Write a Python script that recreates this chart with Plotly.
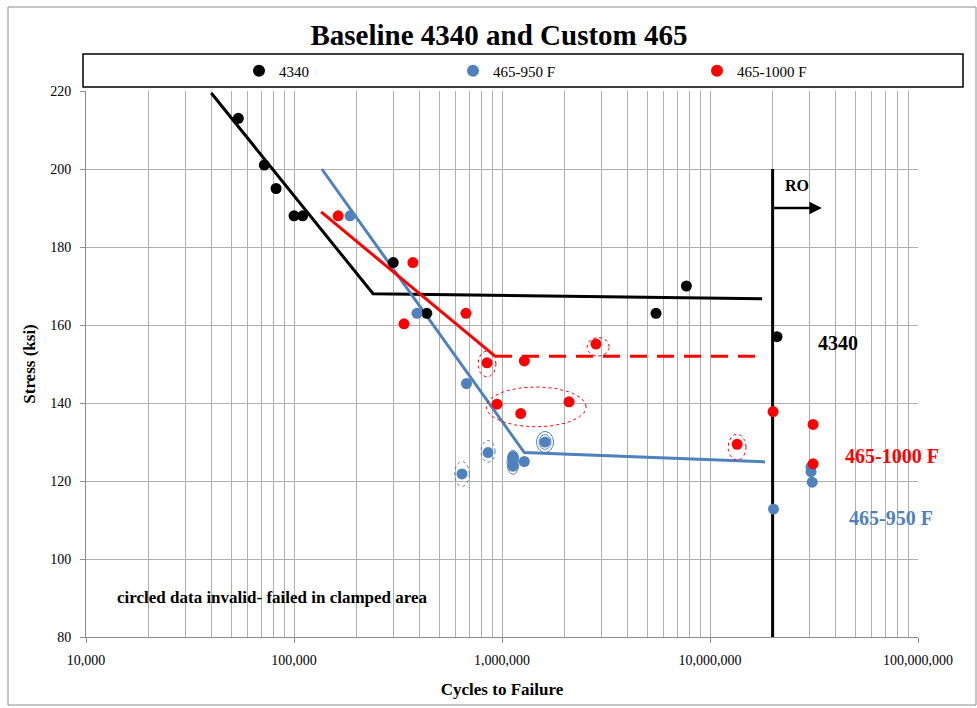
import numpy as np
import plotly.graph_objects as go

# ---------------- data ----------------
c4340 = [54000, 72000, 82000, 100000, 110000, 300000, 435000, 5500000, 7700000, 21000000]
s4340 = [213, 201, 195, 188, 188, 176, 163, 163, 170, 157]

c950 = [186000, 390000, 675000, 642000, 857000, 1130000, 1130000, 1130000,
        1280000, 1610000, 20200000, 30600000, 30600000, 31000000]
s950 = [188, 163, 145, 121.8, 127.3, 126.3, 125.0, 123.8, 125.0, 130.0,
        112.8, 123.6, 122.4, 119.7]

c1000 = [163000, 373000, 338000, 671000, 847000, 1280000, 2830000, 946000,
         1230000, 2100000, 13500000, 20100000, 31300000, 31300000]
s1000 = [188, 176, 160.3, 163, 150.3, 150.8, 155.1, 139.7, 137.3, 140.3,
         129.4, 137.8, 134.5, 124.4]

# trend lines
fit4340_c = [40000, 240000, 17800000]
fit4340_s = [219.5, 168, 166.7]
fit950_c = [136000, 1280000, 18400000]
fit950_s = [200, 127.3, 124.9]
fit1000_c = [135000, 925000]
fit1000_s = [189, 152]
fit1000dash_c = [925000, 17800000]
fit1000dash_s = [152, 152]

# run-out line and arrow
runout_c = [20000000, 20000000]
runout_s = [80, 200]
arrow_c = [20000000, 34500000]
arrow_s = [190, 190]

# circled (invalid) data: centres (cycles, ksi)
red_ring_c = [847000, 1460000, 2900000, 13500000]
red_ring_s = [150.0, 139.0, 154.4, 128.7]
bluedot_ring_c = [642000, 857000]
bluedot_ring_s = [121.8, 127.6]
bluesolid_ring_c = [1130000, 1610000, 1610000]
bluesolid_ring_s = [124.8, 130.0, 130.0]

# ring radii (decades, ksi)
red_ring_r = [(0.043, 3.3), (0.24, 5.1), (0.053, 2.4), (0.043, 3.3)]
bluedot_ring_r = [(0.036, 3.2), (0.034, 2.8)]
bluesolid_ring_r = [(0.029, 3.1), (0.041, 2.7), (0.029, 1.9)]

BLUE = "#4f81bd"
RED = "#ff0000"
FONT = "Liberation Serif"

# plot-area pixel geometry helpers (layout only)
L, R, T, B = 86, 918, 91, 637
def px(x):
    return (x - L) / (R - L)
def py(y):
    return (B - y) / (B - T)

def rings(cs, ss, rr):
    t = np.linspace(0, 2 * np.pi, 73)
    xs, ys = [], []
    for c, s, (rx, ry) in zip(cs, ss, rr):
        xs += list(c * 10 ** (rx * np.cos(t))) + [None]
        ys += list(s + ry * np.sin(t)) + [None]
    return xs, ys

fig = go.Figure()

# lines
fig.add_trace(go.Scatter(x=fit4340_c, y=fit4340_s, mode="lines",
                         line=dict(color="black", width=3), showlegend=False, hoverinfo="skip"))
fig.add_trace(go.Scatter(x=fit950_c, y=fit950_s, mode="lines",
                         line=dict(color=BLUE, width=3), showlegend=False, hoverinfo="skip"))
fig.add_trace(go.Scatter(x=fit1000_c, y=fit1000_s, mode="lines",
                         line=dict(color=RED, width=3), showlegend=False, hoverinfo="skip"))
fig.add_trace(go.Scatter(x=fit1000dash_c, y=fit1000dash_s, mode="lines",
                         line=dict(color=RED, width=3, dash="17px,10px"), showlegend=False, hoverinfo="skip"))
fig.add_trace(go.Scatter(x=runout_c, y=runout_s, mode="lines",
                         line=dict(color="black", width=3), showlegend=False, hoverinfo="skip"))

# rings
x, y = rings(red_ring_c, red_ring_s, red_ring_r)
fig.add_trace(go.Scatter(x=x, y=y, mode="lines", line=dict(color=RED, width=1, dash="dot"),
                         showlegend=False, hoverinfo="skip"))
x, y = rings(bluedot_ring_c, bluedot_ring_s, bluedot_ring_r)
fig.add_trace(go.Scatter(x=x, y=y, mode="lines", line=dict(color=BLUE, width=1, dash="dot"),
                         showlegend=False, hoverinfo="skip"))
x, y = rings(bluesolid_ring_c, bluesolid_ring_s, bluesolid_ring_r)
fig.add_trace(go.Scatter(x=x, y=y, mode="lines", line=dict(color=BLUE, width=1),
                         showlegend=False, hoverinfo="skip"))

# markers
fig.add_trace(go.Scatter(x=c4340, y=s4340, mode="markers", name="4340",
                         marker=dict(color="black", size=11), legend="legend"))
fig.add_trace(go.Scatter(x=c950, y=s950, mode="markers", name="465-950 F",
                         marker=dict(color=BLUE, size=11), legend="legend2"))
fig.add_trace(go.Scatter(x=c1000, y=s1000, mode="markers", name="465-1000 F",
                         marker=dict(color=RED, size=11), legend="legend3"))

def leg(xpix):
    return dict(x=px(xpix), y=py(71), xanchor="left", yanchor="middle",
                xref="paper", yref="paper", bgcolor="rgba(0,0,0,0)", borderwidth=0,
                font=dict(family=FONT, size=15, color="black"), itemsizing="constant")

def note(xpix, ypix, text, size, color):
    return dict(x=px(xpix), y=py(ypix), xref="paper", yref="paper", text=text,
                showarrow=False, xanchor="center", yanchor="middle",
                font=dict(family=FONT, size=size, color=color))

annotations = [
    note(838, 343, "<b>4340</b>", 20, "black"),
    note(892, 456, "<b>465-1000 F</b>", 20, RED),
    note(891, 518, "<b>465-950 F</b>", 20, BLUE),
    note(797, 185, "<b>RO</b>", 16, "black"),
    note(272, 597, "<b>circled data invalid- failed in clamped area</b>", 17, "black"),
    dict(x=np.log10(arrow_c[1]), y=arrow_s[1], ax=np.log10(arrow_c[0]), ay=arrow_s[0],
         xref="x", yref="y", axref="x", ayref="y", text="", showarrow=True,
         arrowhead=2, arrowsize=1, arrowwidth=2.5, arrowcolor="black", standoff=0, startstandoff=0),
]

shapes = [
    dict(type="rect", xref="paper", yref="paper", x0=px(83), x1=px(963), y0=py(87), y1=py(54),
         line=dict(color="black", width=1.5), layer="above"),
    dict(type="rect", xref="paper", yref="paper", x0=px(8), x1=px(976), y0=py(705), y1=py(7),
         line=dict(color="#8c8c8c", width=1), layer="below"),
]

grid = "#b0b0b0"
fig.update_layout(
    width=977, height=708,
    margin=dict(l=L, r=977 - R, t=T, b=708 - B, autoexpand=False),
    paper_bgcolor="white", plot_bgcolor="white",
    font=dict(family=FONT, color="black"),
    title=dict(text="<b>Baseline 4340 and Custom 465</b>", x=px(499), xref="paper",
               y=1 - 35 / 708, yanchor="middle", xanchor="center",
               font=dict(family=FONT, size=29, color="black")),
    legend=leg(239), legend2=leg(453), legend3=leg(697),
    annotations=annotations, shapes=shapes,
    xaxis=dict(type="log", range=[4, 8], dtick=1, tickformat=",d",
               showgrid=True, gridcolor=grid, gridwidth=1,
               minor=dict(dtick="D1", showgrid=True, gridcolor=grid, gridwidth=1, ticks=""),
               showline=True, linecolor="#8c8c8c", linewidth=1,
               ticks="outside", ticklen=5, tickcolor="#8c8c8c", ticklabelstandoff=5,
               tickfont=dict(family=FONT, size=14, color="black"),
               title=dict(text="<b>Cycles to Failure</b>", font=dict(family=FONT, size=17), standoff=16),
               zeroline=False),
    yaxis=dict(range=[80, 220], dtick=20, showgrid=True, gridcolor=grid, gridwidth=1,
               showline=True, linecolor="#8c8c8c", linewidth=1,
               ticks="outside", ticklen=5, tickcolor="#8c8c8c", ticklabelstandoff=6,
               tickfont=dict(family=FONT, size=14, color="black"),
               title=dict(text="<b>Stress (ksi)</b>", font=dict(family=FONT, size=17), standoff=10),
               zeroline=False),
)

fig.write_html("out.html", config={"displayModeBar": False},
               post_script="document.body.style.margin='0';")
